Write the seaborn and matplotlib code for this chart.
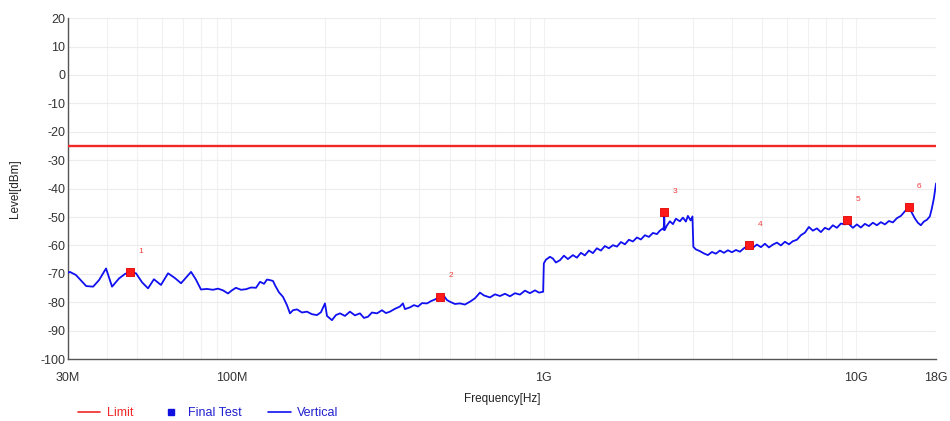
import pandas as pd
import seaborn as sns
import matplotlib.pyplot as plt
from matplotlib.lines import Line2D
from matplotlib.ticker import FixedLocator, NullFormatter

# ==========================================
# DATA
# ==========================================

# Vertical polarisation trace: frequency in MHz, level in dBm
freq_mhz = [
    30.0, 30.4, 31.8, 34.3, 36.1, 37.7, 39.7, 41.5, 43.7, 45.7,
    47.4, 49.5, 51.8, 54.1, 56.5, 59.5, 62.7, 66.0, 69.0, 74.3,
    77.0, 79.9, 83.5, 87.3, 90.6, 94.0, 97.5, 100.4, 103.4, 107.3,
    111.4, 115.5, 119.9, 123.5, 127.2, 130.0, 132.9, 135.9, 137.9, 142.0,
    146.3, 150.6, 154.0, 157.4, 162.2, 168.2, 174.5, 181.1, 187.9, 193.5,
    199.3, 202.3, 209.8, 216.1, 222.6, 230.9, 239.6, 248.6, 257.9, 265.6,
    273.6, 281.8, 292.4, 303.3, 312.4, 321.7, 333.8, 346.3, 354.0, 359.3,
    372.8, 384.0, 395.5, 407.5, 422.7, 435.3, 448.3, 465.1, 478.9, 489.6,
    500.6, 519.3, 538.8, 559.1, 580.1, 601.9, 624.5, 643.3, 672.3, 697.6,
    723.8, 750.9, 779.1, 808.3, 838.7, 870.2, 902.9, 936.8, 964.9, 995.0,
    1000, 1016, 1046, 1069, 1093, 1126, 1160, 1194, 1239, 1276,
    1314, 1353, 1394, 1436, 1478, 1523, 1568, 1615, 1664, 1714,
    1765, 1818, 1872, 1928, 1986, 2045, 2106, 2169, 2234, 2301,
    2352, 2405, 2420, 2428, 2436, 2477, 2532, 2589, 2647, 2726,
    2787, 2849, 2891, 2950, 2990, 3010,
    3067, 3158, 3252, 3350, 3451, 3554, 3661, 3771, 3883, 4000,
    4120, 4243, 4369, 4542, 4667, 4808, 4953, 5100, 5253, 5410,
    5572, 5738, 5910, 6087, 6268, 6456, 6649, 6848, 7052, 7263,
    7481, 7705, 7935, 8173, 8416, 8668, 8927, 9194, 9351, 9541,
    9753, 10044, 10344, 10654, 10973, 11301, 11640, 11988, 12347, 12717,
    13096, 13489, 13893, 14307, 14700, 15063, 15400, 15743, 16094, 16452,
    16820, 17195, 17451, 17711, 18000,
]
level_dbm = [
    -69.6, -69.3, -70.4, -74.3, -74.5, -72.2, -68.1, -74.5, -71.6, -70.0,
    -69.4, -69.8, -73.0, -75.1, -71.9, -73.9, -69.8, -71.5, -73.3, -69.3,
    -72.0, -75.5, -75.3, -75.6, -75.2, -75.8, -76.9, -75.8, -74.9, -75.6,
    -75.4, -74.8, -74.9, -72.8, -73.5, -72.0, -72.2, -72.5, -74.0, -76.5,
    -78.1, -81.0, -83.9, -82.8, -82.5, -83.6, -83.3, -84.2, -84.5, -83.5,
    -80.4, -84.8, -86.3, -84.5, -83.9, -84.8, -83.3, -84.6, -83.9, -85.5,
    -85.1, -83.6, -83.9, -82.8, -83.8, -83.3, -82.3, -81.5, -80.4, -82.4,
    -81.8, -81.0, -81.5, -80.3, -80.4, -79.6, -79.0, -78.1, -77.8, -79.2,
    -79.8, -80.6, -80.4, -80.8, -79.8, -78.6, -76.6, -77.6, -78.3, -77.2,
    -77.8, -77.0, -77.9, -76.8, -77.3, -75.9, -76.8, -75.8, -76.6, -76.3,
    -66.3, -65.0, -64.0, -64.6, -66.0, -65.2, -63.6, -64.8, -63.4, -64.3,
    -62.6, -63.5, -61.8, -62.7, -61.0, -61.8, -60.2, -61.0, -59.9, -60.4,
    -58.8, -59.6, -58.0, -58.6, -57.2, -57.9, -56.4, -57.0, -55.6, -56.0,
    -54.8, -54.0, -54.5, -48.4, -54.6, -53.0, -51.5, -52.5, -50.6, -51.5,
    -50.2, -51.6, -49.6, -51.2, -49.8, -60.5,
    -61.4, -62.0, -62.8, -63.4, -62.3, -62.9, -61.8, -62.6, -61.7, -62.4,
    -61.6, -62.2, -61.0, -59.9, -60.8, -59.7, -60.6, -59.4, -60.7, -59.7,
    -59.0, -60.0, -58.7, -59.6, -58.5, -58.0, -56.4, -55.5, -53.5, -54.8,
    -54.0, -55.3, -53.8, -54.4, -52.9, -53.8, -52.3, -52.6, -51.2, -52.8,
    -53.8, -52.6, -53.7, -52.4, -53.2, -52.0, -52.9, -51.8, -52.6, -51.4,
    -51.9, -50.4, -49.6, -48.0, -46.6, -48.5, -50.5, -52.0, -52.9, -51.6,
    -51.0, -49.8, -47.0, -43.5, -38.2,
]

# Final test points
marker_freq = [47.4, 465.1, 2428, 4542, 9351, 14700]
marker_level = [-69.4, -78.1, -48.4, -59.9, -51.2, -46.6]
marker_labels = ["1", "2", "3", "4", "5", "6"]

LIMIT_DBM = -25

x_tick_vals = [30, 100, 1000, 10000, 18000]
x_tick_labels = ["30M", "100M", "1G", "10G", "18G"]
y_tick_vals = list(range(-100, 21, 10))

# ==========================================

sns.set_style("white")
plt.rcParams['font.family'] = ['Liberation Sans', 'DejaVu Sans']
plt.rcParams['axes.unicode_minus'] = False

TRACE_BLUE = "#1010f0"
LIMIT_RED = "#f02828"

trace_df = pd.DataFrame({"freq": freq_mhz, "level": level_dbm})
marker_df = pd.DataFrame({"freq": marker_freq, "level": marker_level})

fig = plt.figure(figsize=(9.5, 4.21), dpi=100)
ax = fig.add_axes([0.0716, 0.147, 0.9137, 0.81])

ax.set_xscale('log')

# very faint grid, drawn under everything
minor_pos = [m * 10 ** e for e in range(1, 5) for m in range(2, 10)]
minor_pos = [v for v in minor_pos if 30 < v < 18000]
ax.xaxis.set_minor_locator(FixedLocator(minor_pos))
ax.xaxis.set_minor_formatter(NullFormatter())
ax.grid(True, which='both', axis='x', color="#f1f1f1", linewidth=0.8)
ax.grid(True, which='major', axis='y', color="#ececec", linewidth=0.8)
ax.set_axisbelow(True)

ax.axhline(LIMIT_DBM, color=LIMIT_RED, linewidth=1.7, zorder=3)

sns.lineplot(data=trace_df, x="freq", y="level", ax=ax, color=TRACE_BLUE,
             linewidth=1.3, estimator=None, sort=False, zorder=4)

sns.scatterplot(data=marker_df, x="freq", y="level", ax=ax, color="#ff1a1a",
                marker="s", s=30, edgecolor="#e00000", linewidth=0.6, zorder=5)

for f, lv, lab in zip(marker_freq, marker_level, marker_labels):
    ax.annotate(lab, (f, lv), xytext=(6, 14), textcoords="offset points",
                color="#f03c3c", fontsize=6)

ax.set_xlim(30, 18000)
ax.set_ylim(-100, 20)
ax.set_xticks(x_tick_vals)
ax.set_xticklabels(x_tick_labels)
ax.set_yticks(y_tick_vals)

ax.tick_params(axis='x', which='both', direction='in', length=4, width=0.8,
               color="#666666", labelsize=9, labelcolor="#333333", pad=9)
ax.tick_params(axis='y', which='both', length=0, labelsize=9,
               labelcolor="#333333", pad=2)

for side in ['top', 'right']:
    ax.spines[side].set_visible(False)
for side in ['left', 'bottom']:
    ax.spines[side].set_color("#555555")
    ax.spines[side].set_linewidth(1.0)

ax.set_xlabel("Frequency[Hz]", fontsize=8.5, color="#222222", labelpad=7)
ax.set_ylabel("Level[dBm]", fontsize=8.5, color="#222222", labelpad=14)

handles = [
    Line2D([0], [0], color=LIMIT_RED, linewidth=1.2),
    Line2D([0], [0], color="#1010e0", marker="s", markersize=4, linestyle="none"),
    Line2D([0], [0], color=TRACE_BLUE, linewidth=1.2),
]
fig.legend(handles, ["Limit", "Final Test", "Vertical"], loc="lower left",
           bbox_to_anchor=(0.07, -0.022), ncol=3, frameon=False, fontsize=9,
           handlelength=1.8, handletextpad=0.5, columnspacing=2.1,
           labelcolor=[LIMIT_RED, "#2020d0", "#2020d0"])

plt.savefig("out.png", dpi=100)
